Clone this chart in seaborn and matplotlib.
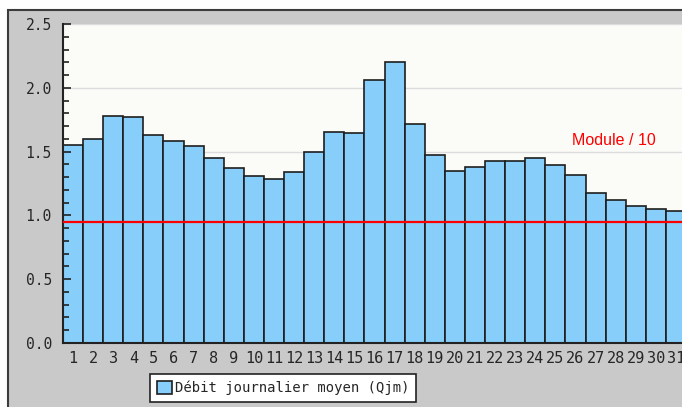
import numpy as np, matplotlib
matplotlib.use("Agg")
import matplotlib.pyplot as plt
import seaborn as sns
from matplotlib.patches import Rectangle
from matplotlib.ticker import MultipleLocator

DAYS=[str(d) for d in range(1,32)]
QJM=[1.55,1.60,1.78,1.77,1.63,1.58,1.54,1.45,1.37,1.31,1.285,1.34,1.50,1.65,1.645,
     2.06,2.20,1.72,1.47,1.35,1.38,1.43,1.43,1.45,1.395,1.32,1.175,1.12,1.07,1.05,1.035]
MODULE_10=0.948
LEGEND_LABEL="Débit journalier moyen (Qjm)"
MODULE_LABEL="Module / 10"
BAR_COLOR="#87cefa"

sns.set_style("white")
plt.rcParams["font.family"]=["DejaVu Sans Mono"]

W,H=682,407
fig=plt.figure(figsize=(W/100,H/100),dpi=100,facecolor="white")
# grey panel with dark border, clipped by the image on right/bottom
fig.patches.append(Rectangle((8/W,-0.1),1.2,1-10/H+0.1,transform=fig.transFigure,
                             facecolor="#c9c9c9",edgecolor="#3c3c3c",linewidth=1.5,zorder=-5))
ax=fig.add_axes([63/W,(H-343)/H,(686-63)/W,(343-24)/H])
ax.set_zorder(1)
ax.set_facecolor("#fbfbf8")

sns.barplot(x=DAYS,y=QJM,color=BAR_COLOR,edgecolor="#1e1e1e",linewidth=1.2,width=1.0,
            saturation=1,label=LEGEND_LABEL,ax=ax,zorder=2)
for g in np.arange(0.5,2.51,0.5):
    ax.axhline(g,color="#dcdcdc",lw=1,zorder=0.5)
ax.axhline(MODULE_10,color="red",lw=1.6,zorder=3)
ax.text(26.9,1.59,MODULE_LABEL,color="red",fontsize=11.5,ha="center",va="center",
        family=["Liberation Sans","DejaVu Sans"])

ax.set_xlim(-0.5,30.5); ax.set_ylim(0,2.5)
ax.yaxis.set_major_locator(MultipleLocator(0.5))
ax.yaxis.set_minor_locator(MultipleLocator(0.1))
ax.yaxis.set_major_formatter(matplotlib.ticker.FormatStrFormatter("%.1f"))
ax.tick_params(axis="y",which="major",direction="in",length=6,width=1.2,color="#222",pad=8,labelsize=10.5,left=True)
ax.tick_params(axis="y",which="minor",direction="in",length=4,width=1.2,color="#222",left=True)
ax.tick_params(axis="x",length=0,pad=6,labelsize=11)
ax.set_axisbelow(False)
for s in ["top","right"]: ax.spines[s].set_visible(False)
for s in ["left","bottom"]:
    ax.spines[s].set_color("#222"); ax.spines[s].set_linewidth(1.5)
ax.set_xlabel(""); ax.set_ylabel("")
if ax.legend_: ax.legend_.remove()
h,l=ax.get_legend_handles_labels()
leg=fig.legend(h,l,loc="center",bbox_to_anchor=(283/W,1-388/H),fontsize=10,frameon=True,
               fancybox=False,edgecolor="#222",handlelength=1.1,handleheight=1.1,
               handletextpad=0.2,borderpad=0.5)
leg.get_frame().set_linewidth(1.2)
leg.get_frame().set_facecolor("white"); leg.get_frame().set_alpha(1)
fig.savefig("out.png",dpi=100,facecolor="white")
